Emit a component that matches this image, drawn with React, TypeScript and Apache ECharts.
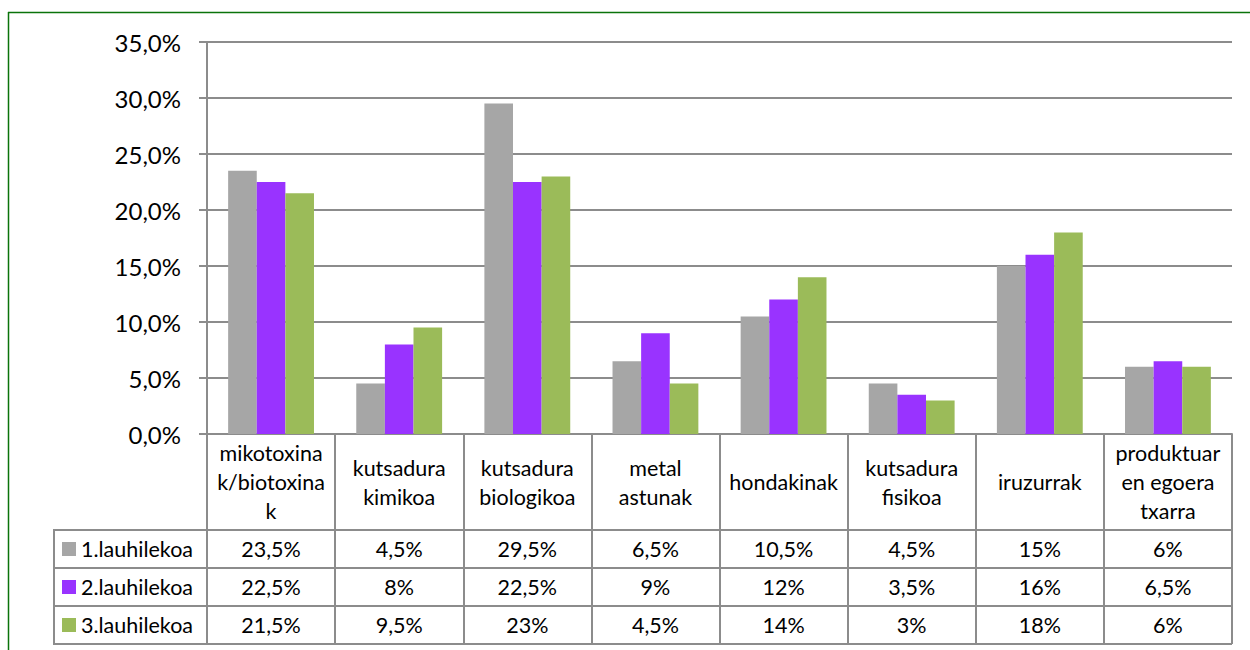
import React, { useEffect, useRef } from "react";
import * as echarts from "echarts";

const categoryLabels = [
  "mikotoxina\nk/biotoxina\nk",
  "kutsadura\nkimikoa",
  "kutsadura\nbiologikoa",
  "metal\nastunak",
  "hondakinak",
  "kutsadura\nfisikoa",
  "iruzurrak",
  "produktuar\nen egoera\ntxarra",
];
const seriesNames = ["1.lauhilekoa", "2.lauhilekoa", "3.lauhilekoa"];
const q1 = [23.5, 4.5, 29.5, 6.5, 10.5, 4.5, 15, 6];
const q2 = [22.5, 8, 22.5, 9, 12, 3.5, 16, 6.5];
const q3 = [21.5, 9.5, 23, 4.5, 14, 3, 18, 6];
const seriesValues = [q1, q2, q3];
const colors = ["#A6A6A6", "#9933FF", "#9BBB59"];
const yMin = 0;
const yMax = 35;
const yStep = 5;

const FONT = "Lato";
const GRID_COLOR = "#8c8c8c";
const fmtCell = (v: number) => String(v).replace(".", ",") + "%";
const fmtAxis = (v: number) => v.toFixed(1).replace(".", ",") + "%";

// layout
const PLOT_LEFT = 207;
const PLOT_RIGHT = 1232;
const PLOT_TOP = 42;
const PLOT_BOTTOM = 434;
const HEADER_H = 96;
const ROW_H = 38;
const TABLE_LEFT = 54;

export default function App() {
  const ref = useRef<HTMLDivElement>(null);
  useEffect(() => {
    if (!ref.current) return;
    const chart = echarts.init(ref.current, null, { renderer: "svg" });
    const rowTops = [0, 1, 2, 3].map((i) => PLOT_BOTTOM + HEADER_H + i * ROW_H);

    const valueAxes = seriesValues.map((vals, i) => ({
      type: "category",
      data: categoryLabels,
      position: "bottom",
      offset: 0,
      gridIndex: 0,
      axisLine: { show: false },
      axisTick: { show: false },
      splitLine: { show: false },
      axisLabel: {
        interval: 0,
        margin: HEADER_H + i * ROW_H + ROW_H / 2,
        verticalAlign: "middle",
        fontSize: 21.5,
        fontFamily: FONT,
        color: "#000",
        formatter: (_v: string, idx: number) => fmtCell(vals[idx]),
      },
    }));

    const graphics: any[] = [];
    rowTops.forEach((y) =>
      graphics.push({
        type: "line",
        shape: { x1: TABLE_LEFT, y1: y, x2: PLOT_RIGHT, y2: y },
        style: { stroke: GRID_COLOR, lineWidth: 2 },
        z: 10,
      })
    );
    graphics.push({
      type: "line",
      shape: { x1: TABLE_LEFT, y1: rowTops[0] - 1, x2: TABLE_LEFT, y2: rowTops[3] + 1 },
      style: { stroke: GRID_COLOR, lineWidth: 2 },
      z: 10,
    });
    // outer frame
    graphics.push({
      type: "line",
      shape: { x1: 8.5, y1: 12, x2: 8.5, y2: 660 },
      style: { stroke: "#0a730a", lineWidth: 1.5 },
    });
    graphics.push({
      type: "line",
      shape: { x1: 8, y1: 12.5, x2: 1260, y2: 12.5 },
      style: { stroke: "#0a730a", lineWidth: 1.5 },
    });

    const legends = seriesNames.map((name, i) => ({
      data: [name],
      left: 62,
      top: rowTops[i] + ROW_H / 2 - 11,
      orient: "horizontal",
      icon: "rect",
      itemWidth: 14,
      itemHeight: 14,
      selectedMode: false,
      padding: 0,
      textStyle: { fontSize: 21.5, fontFamily: FONT, color: "#000", lineHeight: 22 },
    }));

    chart.setOption({
      animation: false,
      backgroundColor: "#fff",
      color: colors,
      legend: legends,
      grid: {
        left: PLOT_LEFT,
        right: 1250 - PLOT_RIGHT,
        top: PLOT_TOP,
        bottom: 650 - PLOT_BOTTOM,
        containLabel: false,
      },
      xAxis: [
        {
          type: "category",
          data: categoryLabels,
          position: "bottom",
          axisLine: { show: true, lineStyle: { color: GRID_COLOR, width: 2 } },
          axisTick: {
            show: true,
            length: HEADER_H + 3 * ROW_H,
            alignWithLabel: false,
            interval: 0,
            lineStyle: { color: GRID_COLOR, width: 2 },
          },
          splitLine: { show: false },
          axisLabel: {
            interval: 0,
            margin: HEADER_H / 2,
            verticalAlign: "middle",
            align: "center",
            lineHeight: 29,
            fontSize: 21.5,
            fontFamily: FONT,
            color: "#000",
          },
        },
        ...valueAxes,
      ],
      yAxis: {
        type: "value",
        min: yMin,
        max: yMax,
        interval: yStep,
        axisLine: { show: true, lineStyle: { color: GRID_COLOR, width: 2 } },
        axisTick: { show: true, length: 8, lineStyle: { color: GRID_COLOR, width: 2 } },
        splitLine: { show: true, lineStyle: { color: GRID_COLOR, width: 2 } },
        axisLabel: {
          margin: 26,
          fontSize: 24,
          fontFamily: FONT,
          color: "#000",
          formatter: (v: number) => fmtAxis(v),
        },
      },
      series: seriesNames.map((name, i) => ({
        name,
        type: "bar",
        data: seriesValues[i],
        barGap: "0%",
        barCategoryGap: "33%",
        xAxisIndex: 0,
        itemStyle: { color: colors[i] },
      })),
      graphic: graphics,
    });
    return () => chart.dispose();
  }, []);
  return (
    <div
      ref={ref}
      style={{ position: "absolute", left: 0, top: 0, width: 1250, height: 650 }}
    />
  );
}
